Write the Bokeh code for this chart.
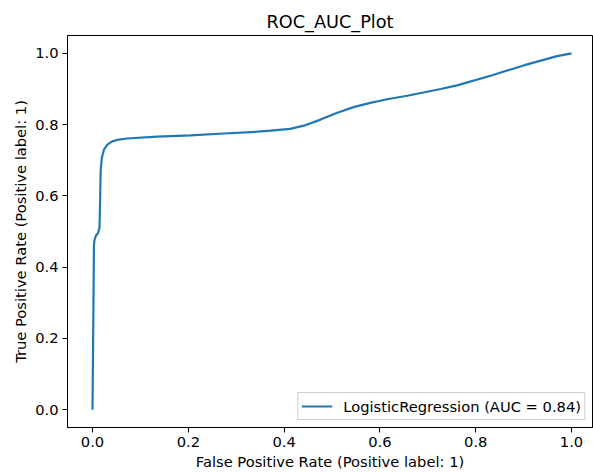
from bokeh.plotting import figure
from bokeh.models import Range1d, NumeralTickFormatter
from bokeh.embed import file_html
from bokeh.resources import INLINE

# ROC curve points (false positive rate vs. true positive rate)
fpr = [0.0, 0.001, 0.002, 0.003, 0.004, 0.007, 0.012, 0.0146, 0.016, 0.017,
       0.0195, 0.024, 0.031, 0.041, 0.055, 0.072, 0.135, 0.205, 0.274, 0.344,
       0.372, 0.413, 0.441, 0.476, 0.511, 0.545, 0.580, 0.615, 0.657, 0.727,
       0.761, 0.831, 0.900, 0.970, 1.0]
tpr = [0.0, 0.15, 0.30, 0.46, 0.475, 0.488, 0.497, 0.511, 0.595, 0.67,
       0.707, 0.730, 0.744, 0.753, 0.758, 0.761, 0.766, 0.770, 0.775, 0.780,
       0.783, 0.788, 0.797, 0.814, 0.833, 0.849, 0.861, 0.871, 0.881, 0.900,
       0.910, 0.937, 0.966, 0.992, 1.0]
tick_values = [0.0, 0.2, 0.4, 0.6, 0.8, 1.0]
series_label = "LogisticRegression (AUC = 0.84)"

FONT = "DejaVu Sans"
TEXT_SIZE = "14.7px"

p = figure(width=593, height=472, output_backend="svg", toolbar_location=None,
           x_range=Range1d(-0.0522, 1.0438), y_range=Range1d(-0.05, 1.05),
           title="ROC_AUC_Plot")
p.min_border_left = 67
p.min_border_right = 1
p.min_border_top = 35
p.min_border_bottom = 44

p.title.align = "center"
p.title.text_font = FONT
p.title.text_font_size = "17.7px"
p.title.text_font_style = "normal"
p.title.text_color = "black"
p.title.standoff = 7

p.outline_line_color = "black"
p.outline_line_width = 1
p.outline_line_alpha = 1
p.grid.visible = False
p.background_fill_color = "white"
p.border_fill_color = "white"

for ax in (p.xaxis, p.yaxis):
    ax.ticker = tick_values
    ax.formatter = NumeralTickFormatter(format="0.0")
    ax.minor_tick_line_color = None
    ax.major_tick_in = 0
    ax.major_tick_out = 5
    ax.major_tick_line_color = "black"
    ax.axis_line_color = "black"
    ax.major_label_text_font = FONT
    ax.major_label_text_font_size = TEXT_SIZE
    ax.major_label_text_color = "black"
    ax.axis_label_text_font = FONT
    ax.axis_label_text_font_size = TEXT_SIZE
    ax.axis_label_text_font_style = "normal"
    ax.axis_label_text_color = "black"
    ax.major_label_standoff = 4
    ax.axis_label_standoff = 3
p.xaxis.axis_label = "False Positive Rate (Positive label: 1)"
p.yaxis.axis_label = "True Positive Rate (Positive label: 1)"

p.line(fpr, tpr, line_color="#1f77b4", line_width=2.2, legend_label=series_label)

leg = p.legend[0]
leg.location = "bottom_right"
leg.margin = 7
leg.padding = 3
leg.label_text_font = FONT
leg.label_text_font_size = TEXT_SIZE
leg.label_text_color = "black"
leg.glyph_width = 31
leg.glyph_height = 20
leg.label_height = 20
leg.label_standoff = 11
leg.border_line_color = "#cccccc"
leg.border_line_alpha = 0.9
leg.background_fill_alpha = 0.8

open("out.html", "w").write(file_html(p, INLINE))
